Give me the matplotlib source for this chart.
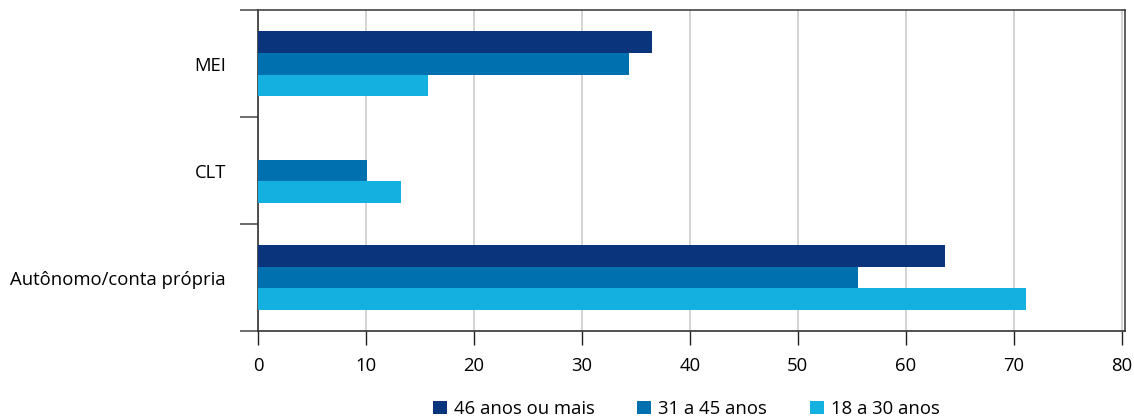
import matplotlib.pyplot as plt
import numpy as np

plt.rcParams['font.family'] = ['Open Sans', 'DejaVu Sans']

categories = ['Autônomo/conta própria', 'CLT', 'MEI']
series = ['46 anos ou mais', '31 a 45 anos', '18 a 30 anos']
v46 = [63.6, 0, 36.5]
v31 = [55.6, 10.1, 34.4]
v18 = [71.1, 13.2, 15.7]
colors = ['#0a357c', '#0071ae', '#14b0df']

fig = plt.figure(figsize=(11.34, 4.19), dpi=100)
ax = fig.add_axes([0.2275, 0.21, 0.7646, 0.766])

y = np.arange(len(categories))
h = 0.205
for i, (vals, name, c) in enumerate(zip([v46, v31, v18], series, colors)):
    ax.barh(y + (1 - i) * h, vals, height=h, color=c, label=name, zorder=3)

ax.set_xlim(0, 80.3)
ax.set_ylim(-0.5, 2.5)
ax.set_xticks(range(0, 81, 10))
ax.set_yticks(y)
ax.set_yticklabels(categories)
ax.set_yticks(np.arange(-0.5, 3, 1), minor=True)

ax.grid(axis='x', color='#cccccc', linewidth=1.2, zorder=0)
ax.tick_params(axis='y', which='major', length=0, pad=23, labelsize=13.3)
ax.tick_params(axis='y', which='minor', length=13, color='#555555', width=1.2)
ax.tick_params(axis='x', length=10, width=1, color='#222222', pad=9, labelsize=13.3)

for s in ['left', 'bottom']:
    ax.spines[s].set_color('#333333')
    ax.spines[s].set_linewidth(1.2)
for s in ['top', 'right']:
    ax.spines[s].set_color('#444444')
    ax.spines[s].set_linewidth(1.2)

fig.legend(loc='center', bbox_to_anchor=(0.605, 0.024), ncol=3, frameon=False,
           fontsize=13.3, handlelength=0.76, handleheight=0.76, handletextpad=0.38,
           columnspacing=2.3)

fig.savefig('out.png', dpi=100)
